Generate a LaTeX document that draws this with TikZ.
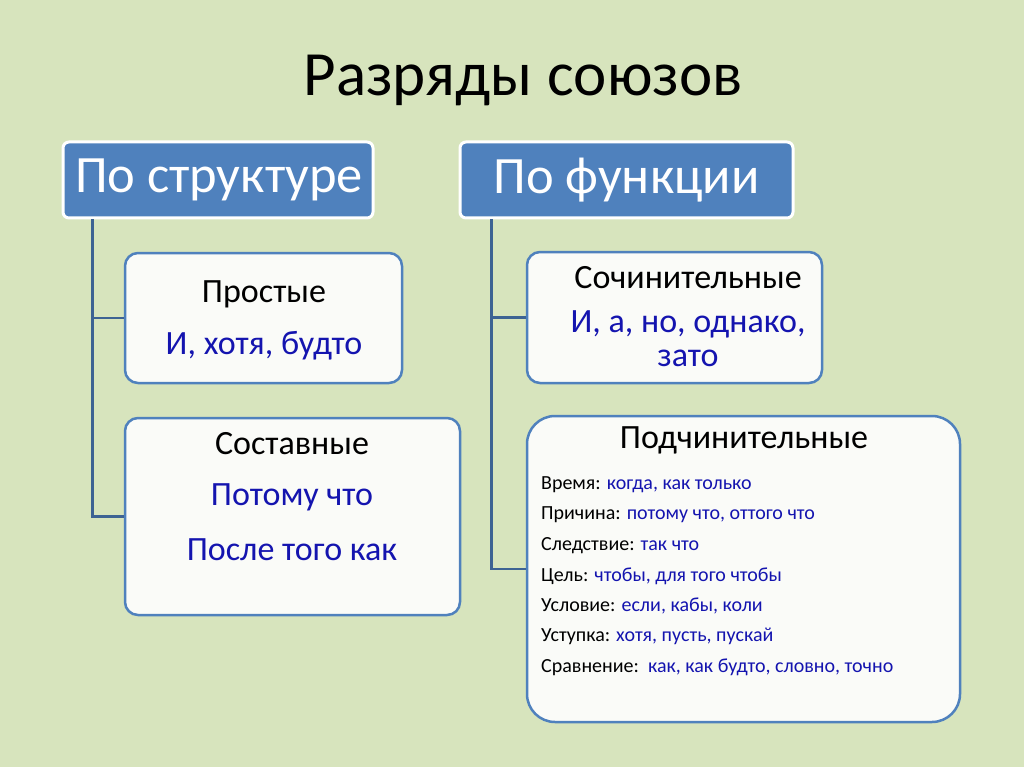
\documentclass[tikz,border=0pt]{standalone}
\usepackage{fontspec}
\setmainfont{Carlito}
\definecolor{bg}{RGB}{215,228,189}
\definecolor{hdr}{RGB}{79,129,189}
\definecolor{conn}{RGB}{61,99,147}
\definecolor{bx}{RGB}{250,251,248}
\definecolor{bluetxt}{RGB}{20,20,175}
\tikzset{
  hdrbox/.style={draw=white, line width=3pt, fill=hdr, rounded corners=6pt, inner sep=0pt},
  childbox/.style={draw=hdr, line width=2.5pt, fill=bx, rounded corners=13pt, inner sep=0pt},
  connline/.style={draw=conn, line width=2.5pt},
  hdrtext/.style={text=white, font=\fontsize{52.5}{60}\selectfont, inner sep=0pt},
  mtext/.style={text=black, font=\fontsize{34}{40}\selectfont, inner sep=0pt},
  btext/.style={text=bluetxt, font=\fontsize{34}{40}\selectfont, inner sep=0pt},
  stext/.style={font=\fontsize{20}{24}\selectfont, inner sep=0pt, anchor=west}
}
\begin{document}
\begin{tikzpicture}[x=1pt,y=-1pt]
\useasboundingbox (0,0) rectangle (1024,767);
\fill[bg] (0,0) rectangle (1024,767);
% title
\node[font=\fontsize{63}{72}\selectfont, inner sep=0pt] (title) at (523,80) {Разряды союзов};
% headers
\node[hdrbox, minimum width=310pt, minimum height=76pt] (h1) at (218,180) {};
\node[hdrtext] (h1t) at (219,180) {По структуре};
\node[hdrbox, minimum width=333pt, minimum height=76pt] (h2) at (626.5,180) {};
\node[hdrtext] (h2t) at (626.5,180) {По функции};
% child boxes
\node[childbox, minimum width=277pt, minimum height=130pt] (b1) at (263.5,318) {};
\node[childbox, minimum width=335pt, minimum height=197pt] (b2) at (292.5,516.5) {};
\node[childbox, minimum width=295pt, minimum height=131pt] (b3) at (674.5,317.5) {};
\node[childbox, rounded corners=28pt, minimum width=433pt, minimum height=306pt] (b4) at (743.5,569) {};
% connectors
\draw[connline] ([xshift=31pt]h1.south west) |- (b1.west);
\draw[connline] ([xshift=31pt]h1.south west) |- (b2.west);
\draw[connline] ([xshift=33pt]h2.south west) |- (b3.west);
\draw[connline] ([xshift=33pt]h2.south west) |- (b4.west);
% texts box 1
\node[mtext] (t1a) at (264,294) {Простые};
\node[btext] (t1b) at (264,346) {И, хотя, будто};
% box 2
\node[mtext] (t2a) at (292,444) {Составные};
\node[btext] (t2b) at (292,497) {Потому что};
\node[btext] (t2c) at (292,550) {После того как};
% box 3
\node[mtext] (t3a) at (688,278) {Сочинительные};
\node[btext] (t3b) at (688,324) {И, а, но, однако,};
\node[btext] (t3c) at (688,358) {зато};
% box 4
\node[mtext] (t4a) at (744,440) {Подчинительные};
\node[stext] (s1) at (541,485) {Время: \textcolor{bluetxt}{когда, как только}};
\node[stext] (s2) at (541,515) {Причина: \textcolor{bluetxt}{потому что, оттого что}};
\node[stext] (s3) at (541,546) {Следствие: \textcolor{bluetxt}{так что}};
\node[stext] (s4) at (541,576) {Цель: \textcolor{bluetxt}{чтобы, для того чтобы}};
\node[stext] (s5) at (541,606) {Условие: \textcolor{bluetxt}{если, кабы, коли}};
\node[stext] (s6) at (541,636) {Уступка: \textcolor{bluetxt}{хотя, пусть, пускай}};
\node[stext] (s7) at (541,667) {Сравнение:\ \ \textcolor{bluetxt}{как, как будто, словно, точно}};
\end{tikzpicture}
\end{document}
